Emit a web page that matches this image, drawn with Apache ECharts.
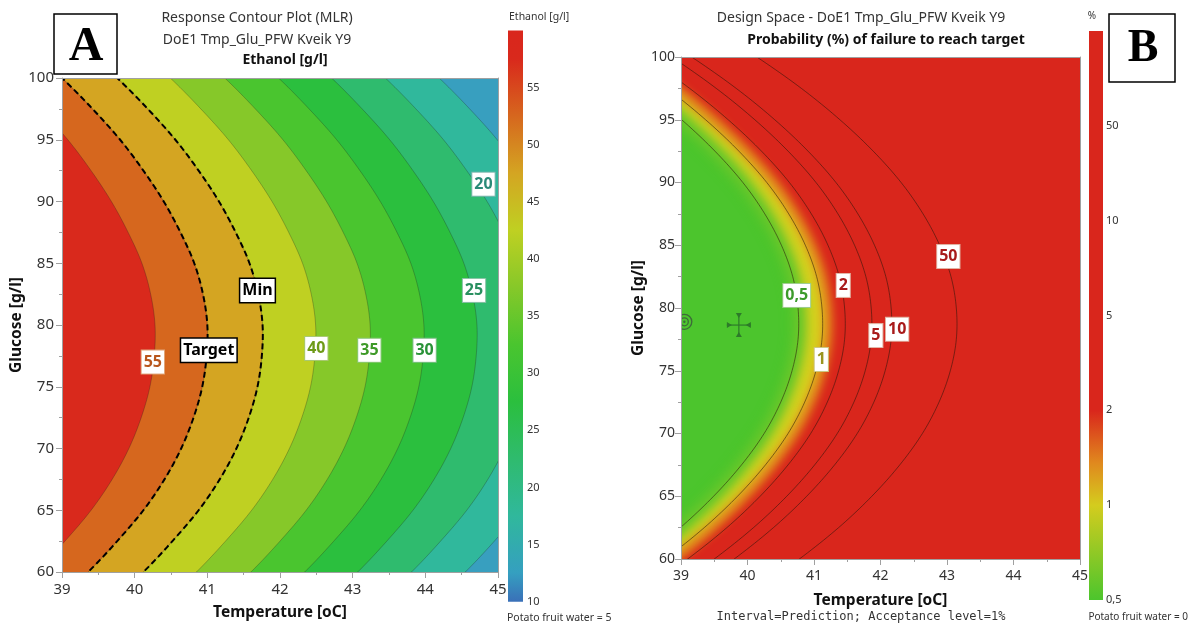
<!DOCTYPE html>
<html><head><meta charset="utf-8">
<script src="https://cdn.jsdelivr.net/npm/echarts@6/dist/echarts.min.js"></script>
<style>html,body{margin:0;padding:0;background:#fff}#c{width:1190px;height:626px}</style>
</head><body><div id="c"></div>
<script>
// ---------- DATA ----------
// Glucose rows at which each contour's temperature was read (first/last rows lie just outside the plot)
const glucoseRows = [57.5,60,62.5,65,67.5,70,72.5,75,77.5,80,82.5,85,87.5,90,92.5,95,97.5,100,102.5];

// Panel A: ethanol contour levels and their temperature positions per glucose row
const ethanolLevels = [15,20,25,30,35,40,45,50,55];
const tempA15 = [44.09,44.55,44.95,45.31,45.6,45.83,46.0,46.12,46.18,46.19,46.13,46.01,45.82,45.59,45.31,44.99,44.61,44.19,43.71];
const tempA20 = [43.35,43.81,44.21,44.57,44.86,45.09,45.26,45.38,45.44,45.45,45.39,45.27,45.08,44.85,44.57,44.25,43.87,43.45,42.97];
const tempA25 = [42.61,43.07,43.47,43.83,44.12,44.35,44.52,44.64,44.7,44.71,44.65,44.53,44.34,44.11,43.83,43.51,43.13,42.71,42.23];
const tempA30 = [41.88,42.34,42.74,43.1,43.39,43.62,43.79,43.91,43.97,43.98,43.92,43.8,43.61,43.38,43.1,42.78,42.4,41.98,41.5];
const tempA35 = [41.14,41.6,42.0,42.36,42.65,42.88,43.05,43.17,43.23,43.24,43.18,43.06,42.87,42.64,42.36,42.04,41.66,41.24,40.76];
const tempA40 = [40.39,40.85,41.25,41.61,41.9,42.13,42.3,42.42,42.48,42.49,42.43,42.31,42.12,41.89,41.61,41.29,40.91,40.49,40.01];
const tempA45 = [39.66,40.12,40.52,40.88,41.17,41.4,41.57,41.69,41.75,41.76,41.7,41.58,41.39,41.16,40.88,40.56,40.18,39.76,39.28];
const tempA50 = [38.9,39.36,39.76,40.12,40.41,40.64,40.81,40.93,40.99,41.0,40.94,40.82,40.63,40.4,40.12,39.8,39.42,39.0,38.52];
const tempA55 = [38.18,38.64,39.04,39.4,39.69,39.92,40.09,40.21,40.27,40.28,40.22,40.1,39.91,39.68,39.4,39.08,38.7,38.28,37.8];

// Panel A contour labels
const labelA_text = ['55','Target','Min','40','35','30','25','20'];
const labelA_temp = [40.25,41.02,41.69,42.5,43.23,43.99,44.67,44.8];
const labelA_gluc = [77.0,77.95,82.8,78.1,77.95,77.95,82.8,91.4];

// Panel A colour scale (ethanol g/l)
const ethanolScaleValues = [10,12.5,17.5,22.5,27.5,32.5,37.5,42.5,47.5,52.5,57.5,60];
const ethanolTicks = [10,15,20,25,30,35,40,45,50,55];

// Panel B: probability-of-failure contour levels and positions
const probLevels = ['0,5','1','2','5','10','50'];
const tempB05 = [37.73,38.4,38.99,39.49,39.91,40.25,40.5,40.67,40.76,40.76,40.68,40.51,40.26,39.93,39.51,39.01,38.43,37.76,37.01];
const tempB1  = [38.09,38.76,39.35,39.85,40.27,40.61,40.86,41.03,41.12,41.12,41.04,40.87,40.62,40.29,39.87,39.37,38.79,38.12,37.37];
const tempB2  = [38.43,39.1,39.69,40.19,40.61,40.95,41.2,41.37,41.46,41.46,41.38,41.21,40.96,40.63,40.21,39.71,39.13,38.46,37.71];
const tempB5  = [38.83,39.5,40.09,40.59,41.01,41.35,41.6,41.77,41.86,41.86,41.78,41.61,41.36,41.03,40.61,40.11,39.53,38.86,38.11];
const tempB10 = [39.13,39.8,40.39,40.89,41.31,41.65,41.9,42.07,42.16,42.16,42.08,41.91,41.66,41.33,40.91,40.41,39.83,39.16,38.41];
const tempB50 = [40.11,40.78,41.37,41.87,42.29,42.63,42.88,43.05,43.14,43.14,43.06,42.89,42.64,42.31,41.89,41.39,40.81,40.14,39.39];

// Panel B contour labels
const labelB_text = ['0,5','1','2','5','10','50'];
const labelB_temp = [40.74,41.11,41.44,41.93,42.25,43.02];
const labelB_gluc = [81.0,75.9,81.8,77.8,78.3,84.1];

// Panel B markers: design point (crosshair) and centre point (circles)
const crossTemp = [39.87], crossGluc = [78.64];
const centreTemp = [39.05], centreGluc = [78.9];

// Panel B colour scale: category positions and ticks
const probScaleTicks = ['0,5','1','2','5','10','50',''];
const probScalePos = [0, 1, 1.45, 2, 6];

// ---------- STYLES ----------
const FONT = '"Noto Sans","Open Sans",sans-serif';
const bandColorsA = ['#30b89c','#2fbb6e','#2bbf3e','#4ac52f','#86c829','#bfd022','#d4a522','#d6671e','#d9291c'];
const scaleColorsA = ['#3a70b8','#359fc0','#30b89c','#2fbb6e','#2bbf3e','#4ac52f','#86c829','#bfd022','#d4a522','#d6671e','#d9291c','#d9261c'];
const scaleColorsB = ['#4cc52d','#d4cc1e','#e0881e','#d9261c','#d9261c'];
const labelStyleA = [
  {color:'#b8561c', borderColor:'#e0a57a'},
  {color:'#000', borderColor:'#000', borderWidth:1.5},
  {color:'#000', borderColor:'#000', borderWidth:1.5},
  {color:'#6e9a18', borderColor:'#a8c870'},
  {color:'#3e9a28', borderColor:'#8cc87a'},
  {color:'#2a9238', borderColor:'#80c08a'},
  {color:'#2a9060', borderColor:'#80c0a0'},
  {color:'#2a8a78', borderColor:'#80b8b0'}
];
const labelStyleB = [
  {color:'#3c9a2a', borderColor:'#9ccc8a'},
  {color:'#9a9420', borderColor:'#ccc680'},
  {color:'#a81a1a', borderColor:'#e0b0a0'},
  {color:'#a81a1a', borderColor:'#e0b0a0'},
  {color:'#a81a1a', borderColor:'#e0b0a0'},
  {color:'#a81a1a', borderColor:'#e0b0a0'}
];

const contoursA = [tempA15,tempA20,tempA25,tempA30,tempA35,tempA40,tempA45,tempA50,tempA55];
const contoursB = [tempB05,tempB1,tempB2,tempB5,tempB10,tempB50];
const OFF = 4000;

// smooth rendering of a pixel path through the read points (Catmull-Rom)
function spline(p, seg){
  const out=[], n=p.length;
  for(let i=0;i<n-1;i++){
    const p0=p[Math.max(i-1,0)], p1=p[i], p2=p[i+1], p3=p[Math.min(i+2,n-1)];
    for(let s=0;s<seg;s++){
      const t=s/seg, t2=t*t, t3=t2*t;
      const f=(a,b,c,d)=>0.5*(2*b+(-a+c)*t+(2*a-5*b+4*c-d)*t2+(-a+3*b-3*c+d)*t3);
      out.push([f(p0[0],p1[0],p2[0],p3[0]), f(p0[1],p1[1],p2[1],p3[1])]);
    }
  }
  out.push(p[n-1]);
  return out;
}
function pts(api, xs, ys){ return spline(xs.map((x,i)=>api.coord([x, ys[i]])), 10); }
function closedPts(api, xs, ys, leftX){
  const p = pts(api, xs, ys);
  p.push(api.coord([leftX, ys[ys.length-1]]));
  p.push(api.coord([leftX, ys[0]]));
  return p;
}

const axisGrey = '#a0a0a0';
function mainX(grid, fs, gap, margin){
  return {gridIndex:grid, type:'value', min:39, max:45, interval:1, z:10,
    axisLine:{show:true, onZero:false, lineStyle:{color:axisGrey}},
    axisTick:{show:true, length:6, lineStyle:{color:axisGrey}},
    minorTick:{show:true, splitNumber:2, length:3, lineStyle:{color:axisGrey}},
    splitLine:{show:false}, minorSplitLine:{show:false},
    axisLabel:{fontSize:fs, color:'#333', margin:margin, fontFamily:FONT},
    name:'Temperature [oC]', nameLocation:'middle', nameGap:gap,
    nameTextStyle:{fontFamily:FONT, fontWeight:'bold', fontSize:15.5, color:'#111'}};
}
function mainY(grid, fs, gap, margin){
  return {gridIndex:grid, type:'value', min:60, max:100, interval:5, z:10,
    axisLine:{show:true, onZero:false, lineStyle:{color:axisGrey}},
    axisTick:{show:true, length:6, lineStyle:{color:axisGrey}},
    minorTick:{show:true, splitNumber:2, length:3, lineStyle:{color:axisGrey}},
    splitLine:{show:false}, minorSplitLine:{show:false},
    axisLabel:{fontSize:fs, color:'#333', margin:margin, fontFamily:FONT},
    name:'Glucose [g/l]', nameLocation:'middle', nameGap:gap,
    nameTextStyle:{fontFamily:FONT, fontWeight:'bold', fontSize:15.5, color:'#111'}};
}
function borderX(grid){ return {gridIndex:grid, type:'value', min:39, max:45, position:'top', z:10,
  axisLine:{show:true, onZero:false, lineStyle:{color:axisGrey}}, axisTick:{show:false}, axisLabel:{show:false}, splitLine:{show:false}}; }
function borderY(grid){ return {gridIndex:grid, type:'value', min:60, max:100, position:'right', z:10,
  axisLine:{show:true, onZero:false, lineStyle:{color:axisGrey}}, axisTick:{show:false}, axisLabel:{show:false}, splitLine:{show:false}}; }

function labelSeries(xi, yi, texts, xs, ys, styles){
  return {type:'scatter', xAxisIndex:xi, yAxisIndex:yi, symbolSize:2, silent:true, z:6, clip:false,
    itemStyle:{color:'rgba(0,0,0,0)'},
    label:{show:true, position:'inside', formatter:p=>p.name, fontFamily:FONT, fontSize:16, fontWeight:'bold',
      backgroundColor:'#fff', borderWidth:1, padding:[4,2,3,2], opacity:1},
    data: texts.map((t,i)=>({name:t, value:[xs[i], ys[i]], label:Object.assign({}, styles[i])}))};
}

const chart = echarts.init(document.getElementById('c'), null, {renderer:'canvas'});
const option = {
  animation:false,
  backgroundColor:'#fff',
  grid:[
    {left:62, top:78, width:436, height:495, show:true, backgroundColor:'#389fbf', borderWidth:0},
    {left:681, top:57, width:399, height:502, show:true, backgroundColor:'#d9261c', borderWidth:0},
    {left:508, top:30.4, width:15, height:571.3},
    {left:1089, top:31, width:14, height:569}
  ],
  xAxis:[
    mainX(0, 15, 33, 10), borderX(0),
    mainX(1, 14, 34, 10), borderX(1),
    {gridIndex:2, type:'value', min:0, max:1, show:false},
    {gridIndex:3, type:'value', min:0, max:1, show:false}
  ],
  yAxis:[
    mainY(0, 15, 34, 8), borderY(0),
    mainY(1, 14, 31, 6), borderY(1),
    {gridIndex:2, type:'value', min:10, max:60, interval:5, position:'right',
      axisLine:{show:false}, axisTick:{show:false}, splitLine:{show:false},
      axisLabel:{fontSize:11, color:'#333', margin:4, fontFamily:FONT, formatter:v=> (ethanolTicks.indexOf(v)>=0? String(v):'')}},
    {gridIndex:3, type:'category', data:probScaleTicks, boundaryGap:false, position:'right',
      axisLine:{show:false}, axisTick:{show:false}, splitLine:{show:false},
      axisLabel:{fontSize:11, color:'#333', margin:3, fontFamily:FONT, interval:0}}
  ],
  series:[
    // ---- Panel A filled bands
    {type:'custom', xAxisIndex:0, yAxisIndex:0, clip:true, silent:true, z:2,
      data: ethanolLevels.map((l,i)=>[39,60,i]),
      renderItem:(p, api)=>{ const i=api.value(2);
        return {type:'polygon', shape:{points:closedPts(api, contoursA[i], glucoseRows, 36)},
          style:{fill:bandColorsA[i]}}; }},
    // ---- Panel A contour lines
    {type:'custom', xAxisIndex:0, yAxisIndex:0, clip:true, silent:true, z:3,
      data: ethanolLevels.map((l,i)=>[39,60,i]),
      renderItem:(p, api)=>{ const i=api.value(2);
        return {type:'polyline', shape:{points:pts(api, contoursA[i], glucoseRows)},
          style:{stroke:'rgba(30,30,30,0.35)', lineWidth:0.8, fill:null}}; }},
    // ---- Panel A Target (50) and Min (45) dashed lines
    {type:'custom', xAxisIndex:0, yAxisIndex:0, clip:true, silent:true, z:4,
      data: [[39,60,7],[39,60,6]],
      renderItem:(p, api)=>{ const i=api.value(2);
        return {type:'polyline', shape:{points:pts(api, contoursA[i], glucoseRows)},
          style:{stroke:'#000', lineWidth:2, lineDash:[6,3.5], fill:null}}; }},
    labelSeries(0, 0, labelA_text, labelA_temp, labelA_gluc, labelStyleA),

    // ---- Panel B soft transition: orange, yellow, green (blurred shapes)
    {type:'custom', xAxisIndex:2, yAxisIndex:2, clip:true, silent:true, z:2,
      data: [[39,60,0],[39,60,1],[39,60,2]],
      renderItem:(p, api)=>{ const i=api.value(2);
        if (i===0) return {type:'polygon', x:OFF, shape:{points:closedPts(api, tempB1, glucoseRows, 35)},
          style:{fill:'#e2861e', stroke:'#e2861e', lineWidth:20, lineJoin:'round', shadowBlur:9, shadowColor:'#e2861e', shadowOffsetX:-OFF}};
        if (i===1) return {type:'polygon', x:OFF, shape:{points:closedPts(api, tempB1, glucoseRows, 35)},
          style:{fill:'#d7d11f', shadowBlur:8, shadowColor:'#d7d11f', shadowOffsetX:-OFF}};
        return {type:'polygon', x:OFF, shape:{points:closedPts(api, tempB05, glucoseRows, 35)},
          style:{fill:'#4cc52d', stroke:'#4cc52d', lineWidth:10, lineJoin:'round', shadowBlur:13, shadowColor:'#4cc52d', shadowOffsetX:-OFF}}; }},
    // ---- Panel B contour lines
    {type:'custom', xAxisIndex:2, yAxisIndex:2, clip:true, silent:true, z:3,
      data: probLevels.map((l,i)=>[39,60,i]),
      renderItem:(p, api)=>{ const i=api.value(2);
        return {type:'polyline', shape:{points:pts(api, contoursB[i], glucoseRows)},
          style:{stroke:'rgba(40,20,10,0.6)', lineWidth:0.9, fill:null}}; }},
    // ---- Panel B markers
    {type:'custom', xAxisIndex:2, yAxisIndex:2, clip:true, silent:true, z:5,
      data: [[centreTemp[0], centreGluc[0], 0],[crossTemp[0], crossGluc[0], 1]],
      renderItem:(p, api)=>{ const c = api.coord([api.value(0), api.value(1)]); const k = api.value(2);
        if (k===0) return {type:'group', children:[
          {type:'circle', shape:{cx:c[0], cy:c[1], r:7.5}, style:{fill:null, stroke:'#3d6a3a', lineWidth:1.3}},
          {type:'circle', shape:{cx:c[0], cy:c[1], r:4}, style:{fill:null, stroke:'#3d6a3a', lineWidth:1.3}},
          {type:'circle', shape:{cx:c[0], cy:c[1], r:1.2}, style:{fill:'#3d6a3a'}}]};
        const x=c[0], y=c[1], col='#2e7a2a';
        return {type:'group', children:[
          {type:'line', shape:{x1:x-12, y1:y, x2:x+12, y2:y}, style:{stroke:col, lineWidth:1.2}},
          {type:'line', shape:{x1:x, y1:y-12, x2:x, y2:y+12}, style:{stroke:col, lineWidth:1.2}},
          {type:'polygon', shape:{points:[[x-12,y-3],[x-7,y],[x-12,y+3]]}, style:{fill:col}},
          {type:'polygon', shape:{points:[[x+12,y-3],[x+7,y],[x+12,y+3]]}, style:{fill:col}},
          {type:'polygon', shape:{points:[[x-3,y-12],[x,y-7],[x+3,y-12]]}, style:{fill:col}},
          {type:'polygon', shape:{points:[[x-3,y+12],[x,y+7],[x+3,y+12]]}, style:{fill:col}}]}; }},
    labelSeries(2, 2, labelB_text, labelB_temp, labelB_gluc, labelStyleB),

    // ---- Colour scale A
    {type:'custom', xAxisIndex:4, yAxisIndex:4, silent:true,
      data:[[0,10]],
      renderItem:(p, api)=>{ const a=api.coord([0,60]), b=api.coord([1,10]);
        const stops = ethanolScaleValues.map((v,i)=>({offset:(v-10)/50, color:scaleColorsA[i]}));
        return {type:'rect', shape:{x:a[0], y:a[1], width:b[0]-a[0], height:b[1]-a[1]},
          style:{fill:new echarts.graphic.LinearGradient(0,1,0,0,stops)}}; }},
    // ---- Colour scale B
    {type:'custom', xAxisIndex:5, yAxisIndex:5, silent:true,
      data:[[0,0]],
      renderItem:(p, api)=>{ const a=api.coord([0,6]), b=api.coord([1,0]);
        const stops = probScalePos.map((v,i)=>({offset:v/6, color:scaleColorsB[i]}));
        return {type:'rect', shape:{x:a[0], y:a[1], width:b[0]-a[0], height:b[1]-a[1]},
          style:{fill:new echarts.graphic.LinearGradient(0,1,0,0,stops)}}; }}
  ],
  graphic:[
    {type:'text', x:257, y:18, z:50, style:{text:'Response Contour Plot (MLR)', font:'14px '+FONT, fill:'#333', align:'center', verticalAlign:'middle', textAlign:'center', textVerticalAlign:'middle'}},
    {type:'text', x:257, y:40, z:50, style:{text:'DoE1 Tmp_Glu_PFW Kveik Y9', font:'14px '+FONT, fill:'#333', align:'center', verticalAlign:'middle', textAlign:'center', textVerticalAlign:'middle'}},
    {type:'text', x:285, y:60, z:50, style:{text:'Ethanol [g/l]', font:'bold 14px '+FONT, fill:'#111', align:'center', verticalAlign:'middle', textAlign:'center', textVerticalAlign:'middle'}},
    {type:'text', x:861, y:18, z:50, style:{text:'Design Space - DoE1 Tmp_Glu_PFW Kveik Y9', font:'14px '+FONT, fill:'#333', align:'center', verticalAlign:'middle', textAlign:'center', textVerticalAlign:'middle'}},
    {type:'text', x:886, y:40, z:50, style:{text:'Probability (%) of failure to reach target', font:'bold 14px '+FONT, fill:'#111', align:'center', verticalAlign:'middle', textAlign:'center', textVerticalAlign:'middle'}},
    {type:'text', x:509, y:17, z:50, style:{text:'Ethanol [g/l]', font:'10.5px '+FONT, fill:'#333', align:'left', verticalAlign:'middle', textAlign:'left', textVerticalAlign:'middle'}},
    {type:'text', x:1092, y:16, z:50, style:{text:'%', font:'10px '+FONT, fill:'#333', align:'center', verticalAlign:'middle', textAlign:'center', textVerticalAlign:'middle'}},
    {type:'text', x:507, y:618, z:50, style:{text:'Potato fruit water = 5', font:'10.5px '+FONT, fill:'#333', align:'left', verticalAlign:'middle', textAlign:'left', textVerticalAlign:'middle'}},
    {type:'text', x:1188, y:617, z:50, style:{text:'Potato fruit water = 0', font:'10px '+FONT, fill:'#333', align:'right', verticalAlign:'middle', textAlign:'right', textVerticalAlign:'middle'}},
    {type:'text', x:861, y:617, z:50, style:{text:'Interval=Prediction; Acceptance level=1%', font:'12px "DejaVu Sans Mono",monospace', fill:'#333', align:'center', verticalAlign:'middle', textAlign:'center', textVerticalAlign:'middle'}},
    {type:'rect', z:60, shape:{x:54, y:14, width:63, height:60}, style:{fill:'#fff', stroke:'#000', lineWidth:1.5}},
    {type:'text', x:86, y:48, z:61, style:{text:'A', font:'bold 48px "Liberation Serif",serif', fill:'#000', align:'center', verticalAlign:'middle', textAlign:'center', textVerticalAlign:'middle'}},
    {type:'rect', z:60, shape:{x:1109, y:14, width:66, height:68}, style:{fill:'#fff', stroke:'#000', lineWidth:1.5}},
    {type:'text', x:1143, y:49, z:61, style:{text:'B', font:'bold 46px "Liberation Serif",serif', fill:'#000', align:'center', verticalAlign:'middle', textAlign:'center', textVerticalAlign:'middle'}}
  ]
};
chart.setOption(option);
</script>
</body></html>
